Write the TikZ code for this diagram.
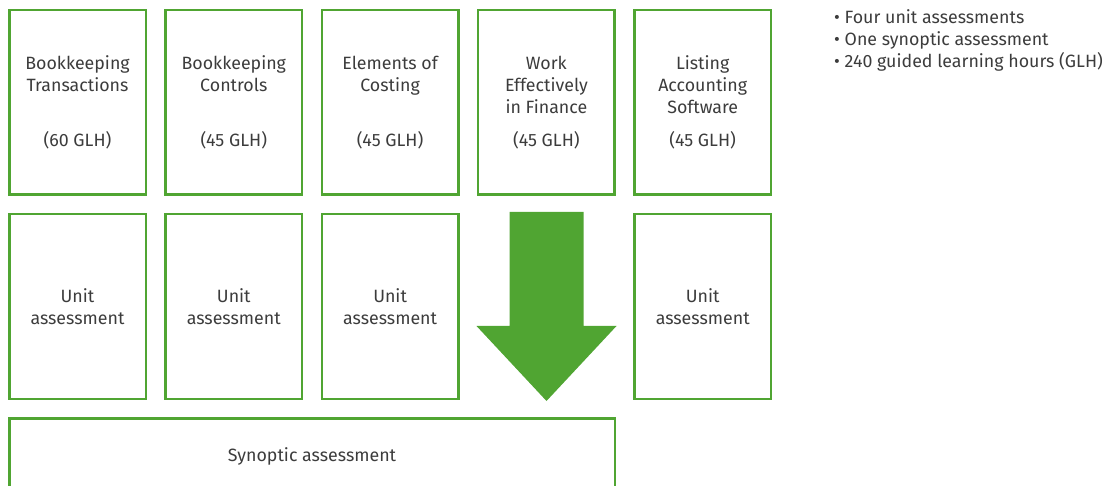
\documentclass[tikz,border=0pt]{standalone}
\usepackage{fontspec}
\setmainfont{Fira Sans}
\usetikzlibrary{positioning}
\definecolor{aatgreen}{RGB}{80,165,50}
\definecolor{aattext}{RGB}{60,60,60}
\tikzset{
  unitbox/.style={draw=aatgreen, line width=2.5pt, minimum width=136.5pt,
    minimum height=184.5pt, inner sep=0pt, align=center, text=aattext,
    font=\fontsize{17.8}{22}\selectfont},
  synbox/.style={unitbox, minimum width=605.5pt, minimum height=75.5pt},
}
\begin{document}
\begin{tikzpicture}[x=1pt, y=-1pt]
\clip (0,0) rectangle (1111,486);
% units with their hours
\node[unitbox] (bt) at (77.5,102.5) {Bookkeeping\\Transactions\\[33pt](60 GLH)};
\node[unitbox, right=17.3pt of bt] (bc) {Bookkeeping\\Controls\\[33pt](45 GLH)};
\node[unitbox, right=17.3pt of bc] (ec) {Elements of\\Costing\\[33pt](45 GLH)};
\node[unitbox, right=17.3pt of ec] (wf) {Work\\Effectively\\in Finance\\[11pt](45 GLH)};
\node[unitbox, right=17.3pt of wf] (la) {Listing\\Accounting\\Software\\[11pt](45 GLH)};
% assessments
\node[unitbox, below=17pt of bt] (btua) {Unit\\assessment};
\node[unitbox, below=17pt of bc] (bcua) {Unit\\assessment};
\node[unitbox, below=17pt of ec] (ecua) {Unit\\assessment};
\node[unitbox, below=17pt of la] (laua) {Unit\\assessment};
\node[synbox, below=17pt of btua.south west, anchor=north west] (syn) {Synoptic assessment};
% big arrow under the finance unit
\fill[aatgreen] (509.5,212) -- (583.5,212) -- (583.5,326) -- (616.5,326)
  -- (546.5,401) -- (476.5,326) -- (509.5,326) -- cycle;
\node[anchor=north west, align=left, text=aattext, inner sep=0pt,
  font=\fontsize{17.8}{22}\selectfont] (key) at (834,9)
  {\textbullet\ Four unit assessments\\
   \textbullet\ One synoptic assessment\\
   \textbullet\ 240 guided learning hours (GLH)};
\end{tikzpicture}
\end{document}
